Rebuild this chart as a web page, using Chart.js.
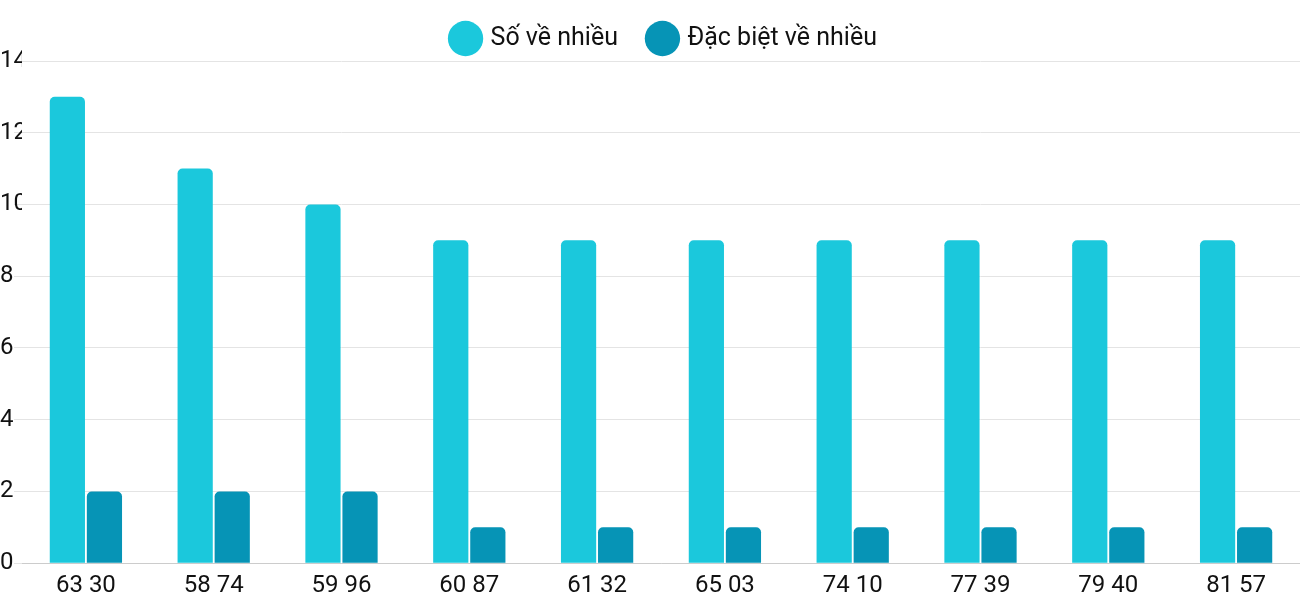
<!DOCTYPE html>
<html>
<head>
<meta charset="utf-8">
<script src="https://cdn.jsdelivr.net/npm/chart.js@4/dist/chart.umd.min.js"></script>
<style>
  html, body { margin: 0; padding: 0; background: #fff; }
  #wrap { width: 1300px; height: 600px; }
</style>
</head>
<body>
<div id="wrap"><canvas id="chart"></canvas></div>
<script>
// Pairs of numbers and how often they appeared
const categories = ['63 30', '58 74', '59 96', '60 87', '61 32', '65 03', '74 10', '77 39', '79 40', '81 57'];
const soVeNhieu = [13, 11, 10, 9, 9, 9, 9, 9, 9, 9];
const dacBietVeNhieu = [2, 2, 2, 1, 1, 1, 1, 1, 1, 1];
const yTicks = [0, 2, 4, 6, 8, 10, 12, 14];

Chart.defaults.font.family = 'Roboto';
Chart.defaults.color = '#111';

new Chart(document.getElementById('chart'), {
    type: 'bar',
    data: {
        labels: categories,
        datasets: [
            {
                label: 'Số về nhiều',
                data: soVeNhieu,
                backgroundColor: '#1bc8dc',
                borderRadius: { topLeft: 5, topRight: 5 },
                borderSkipped: 'bottom',
                barPercentage: 0.95,
                categoryPercentage: 0.58
            },
            {
                label: 'Đặc biệt về nhiều',
                data: dacBietVeNhieu,
                backgroundColor: '#0694b6',
                borderRadius: { topLeft: 5, topRight: 5 },
                borderSkipped: 'bottom',
                barPercentage: 0.95,
                categoryPercentage: 0.58
            }
        ]
    },
    options: {
        responsive: true,
        maintainAspectRatio: false,
        animation: false,
        layout: { padding: { top: -6, right: -30, left: 0, bottom: 0 } },
        plugins: {
            legend: {
                labels: {
                    usePointStyle: true,
                    pointStyle: 'circle',
                    boxWidth: 28,
                    boxHeight: 28,
                    padding: 32,
                    font: { size: 25 }
                }
            },
            tooltip: { enabled: false }
        },
        scales: {
            x: {
                grid: { display: false },
                border: { color: '#ccc' },
                ticks: { font: { size: 24 }, padding: 0, maxRotation: 0 }
            },
            y: {
                min: 0,
                max: 14,
                afterBuildTicks: axis => { axis.ticks = yTicks.map(v => ({ value: v })); },
                afterFit: axis => { axis.width = 22; },
                grid: { color: '#e4e4e4' },
                border: { display: false },
                ticks: { font: { size: 24 }, padding: 0, crossAlign: 'far' }
            }
        }
    }
});
</script>
</body>
</html>
